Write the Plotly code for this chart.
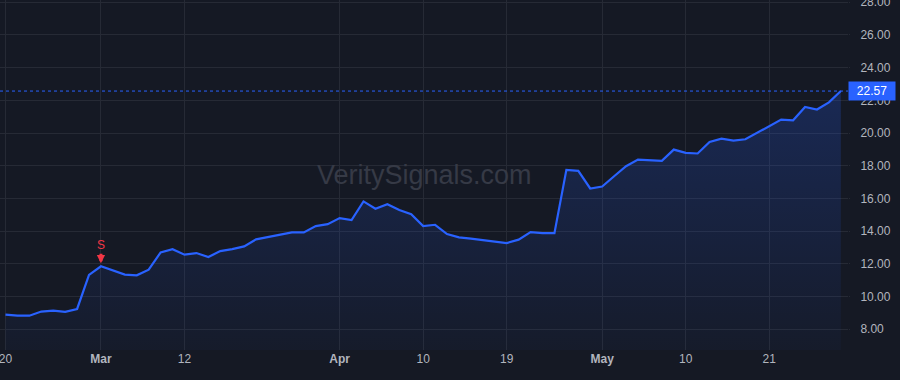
import pandas as pd
import plotly.graph_objects as go

# ---- data ----
holidays = ["2024-03-29", "2024-05-27"]
dates = [d.strftime("%Y-%m-%d") for d in pd.bdate_range("2024-02-20", "2024-05-30")
         if d.strftime("%Y-%m-%d") not in holidays]

prices = [8.90, 8.83, 8.83, 9.08, 9.14, 9.06, 9.24, 11.32, 11.85, 11.58,
          11.34, 11.30, 11.64, 12.70, 12.90, 12.56, 12.66, 12.42, 12.78, 12.90,
          13.07, 13.50, 13.64, 13.78, 13.92, 13.92, 14.31, 14.43, 14.80, 14.68,
          15.82, 15.37, 15.65, 15.29, 15.04, 14.31, 14.39, 13.82, 13.62, 13.54,
          13.44, 13.36, 13.27, 13.48, 13.94, 13.88, 13.88, 17.75, 17.69, 16.61,
          16.73, 17.36, 17.97, 18.38, 18.32, 18.30, 18.99, 18.79, 18.75, 19.46,
          19.66, 19.54, 19.62, 20.01, 20.44, 20.82, 20.78, 21.60, 21.44, 21.88,
          22.57]

x_tick_dates = ["2024-02-20", "2024-03-01", "2024-03-12", "2024-04-01", "2024-04-10",
                "2024-04-19", "2024-05-01", "2024-05-10", "2024-05-21"]
x_tick_labels = ["20", "<b>Mar</b>", "12", "<b>Apr</b>", "10", "19", "<b>May</b>", "10", "21"]
y_ticks = [8, 10, 12, 14, 16, 18, 20, 22, 24, 26, 28]

signal_date = "2024-03-01"
signal_label = "S"
watermark = "VeritySignals.com"

# ---- style ----
BG = "#151924"
GRID = "#262a35"
BLUE = "#2962ff"
RED = "#f23645"
TXT = "#b2b5be"
FONT = "Liberation Sans, Arial, sans-serif"

fig = go.Figure()
fig.add_trace(go.Scatter(
    x=dates, y=prices, mode="lines",
    line=dict(color=BLUE, width=2.2),
    fill="tozeroy",
    fillgradient=dict(type="vertical", start=6.7, stop=22.6,
                      colorscale=[[0, "rgba(41,98,255,0.03)"], [1, "rgba(41,98,255,0.22)"]]),
    hoverinfo="skip", showlegend=False,
))

last = prices[-1]
sig_val = prices[dates.index(signal_date)]

fig.add_shape(type="line", xref="paper", x0=0, x1=1, yref="y", y0=last, y1=last,
              line=dict(color=BLUE, width=1, dash="dot"))

fig.add_annotation(x=signal_date, y=sig_val, text=signal_label, showarrow=True,
                   arrowhead=2, arrowsize=0.55, arrowwidth=3, arrowcolor=RED,
                   ax=0, ay=-21, standoff=3,
                   font=dict(color=RED, size=12, family=FONT))

fig.add_annotation(xref="paper", x=1, y=last, text=f"{last:.2f}", showarrow=False,
                   xanchor="left", yanchor="middle", bgcolor=BLUE, borderpad=2,
                   width=42, align="center",
                   font=dict(color="#ffffff", size=12, family=FONT))

fig.add_annotation(xref="paper", yref="paper", x=0.5, y=0.5, text=watermark,
                   showarrow=False, font=dict(color="#363a46", size=27, family=FONT))

fig.update_layout(
    width=900, height=380,
    margin=dict(l=0, r=52, t=0, b=30, autoexpand=False),
    paper_bgcolor=BG, plot_bgcolor=BG,
    font=dict(family=FONT, color=TXT, size=12),
    xaxis=dict(type="category", range=[-0.46, 70.6], automargin=False,
               tickvals=x_tick_dates, ticktext=x_tick_labels,
               showgrid=True, gridcolor=GRID, gridwidth=1,
               zeroline=False, showline=False, ticks="",
               tickfont=dict(color=TXT, size=12)),
    yaxis=dict(side="right", range=[6.73, 28.14], tickvals=y_ticks, tickformat=".2f",
               automargin=False,
               showgrid=True, gridcolor=GRID, gridwidth=1,
               zeroline=False, showline=False, ticks="outside", ticklen=1,
               tickcolor=GRID, ticklabelstandoff=8, ticklabeloverflow="allow",
               tickfont=dict(color=TXT, size=12)),
)

fig.write_html("out.html")
